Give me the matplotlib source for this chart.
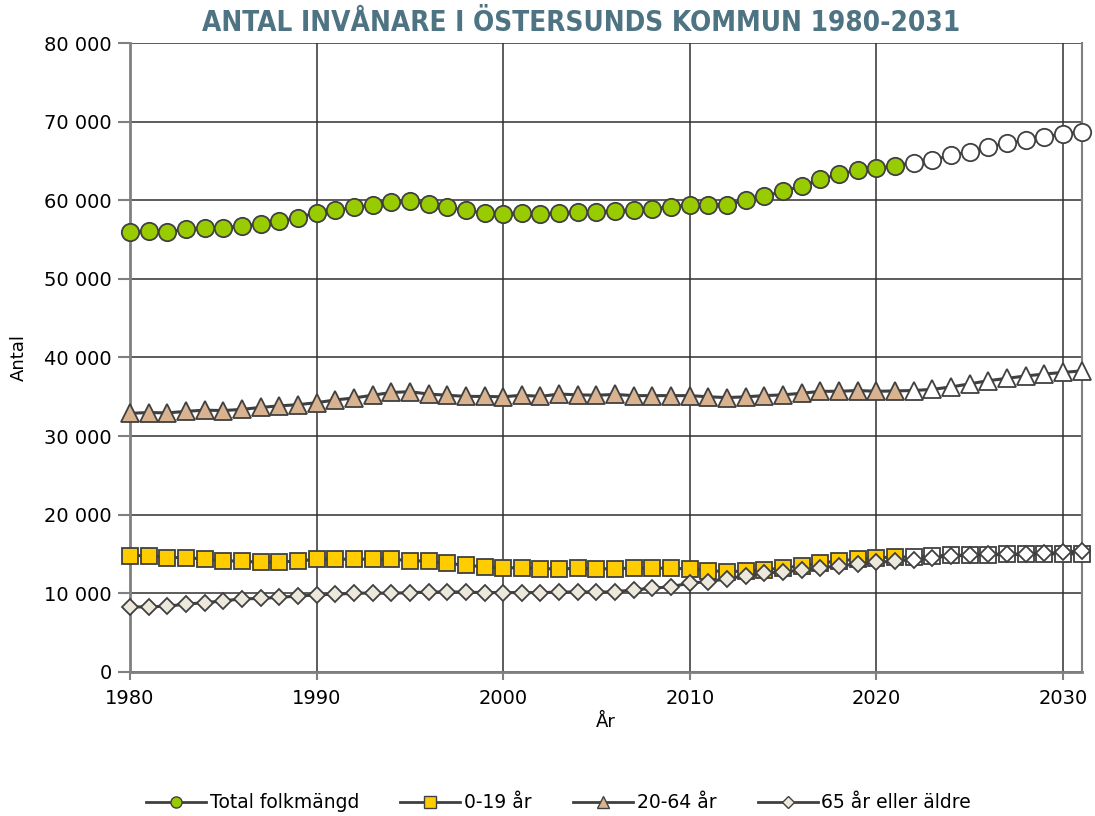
import matplotlib
matplotlib.use("Agg")
import matplotlib.pyplot as plt
from matplotlib.lines import Line2D
from matplotlib.ticker import FuncFormatter
import numpy as np

# År (1980-2021 utfall, 2022-2031 prognos)
years = list(range(1980, 2032))
forecast_start = 2022

total = [55900, 56100, 56000, 56300, 56450, 56500, 56750, 56950, 57350, 57800,
         58400, 58700, 59100, 59350, 59800, 59850, 59550, 59150, 58700, 58400,
         58300, 58400, 58200, 58400, 58500, 58450, 58650, 58750, 58950, 59150,
         59450, 59400, 59450, 60000, 60500, 61150, 61800, 62650, 63300, 63850,
         64050, 64400, 64800, 65100, 65700, 66200, 66800, 67250, 67600, 68050,
         68450, 68700]

age_0_19 = [14800, 14800, 14550, 14550, 14350, 14150, 14100, 13950, 14000, 14100,
            14350, 14350, 14350, 14350, 14350, 14150, 14100, 13800, 13600, 13350,
            13250, 13250, 13150, 13100, 13200, 13100, 13150, 13200, 13200, 13200,
            13100, 12900, 12750, 12850, 13000, 13250, 13500, 13850, 14150, 14350,
            14550, 14600, 14650, 14750, 14850, 14850, 14900, 14950, 14950, 15000,
            15030, 15000]

age_20_64 = [32900, 33000, 32950, 33150, 33300, 33250, 33400, 33650, 33850, 34000,
             34250, 34600, 34850, 35200, 35550, 35650, 35350, 35200, 35050, 35050,
             35000, 35200, 35050, 35350, 35250, 35200, 35300, 35150, 35150, 35150,
             35150, 35000, 34900, 35000, 35150, 35250, 35450, 35700, 35700, 35800,
             35700, 35750, 35800, 35950, 36250, 36650, 37050, 37350, 37650, 37900,
             38100, 38300]

age_65_plus = [8250, 8300, 8350, 8650, 8800, 9050, 9300, 9350, 9500, 9650,
               9800, 9900, 10000, 10050, 10000, 10100, 10150, 10200, 10150, 10100,
               10100, 10100, 10100, 10150, 10200, 10150, 10200, 10450, 10650, 10850,
               11300, 11500, 11850, 12250, 12550, 12750, 12950, 13250, 13500, 13750,
               13950, 14100, 14300, 14550, 14750, 14850, 15000, 15000, 15000, 15100,
               15200, 15450]

labels = ["Total folkmängd", "0-19 år", "20-64 år", "65 år eller äldre"]
colors = ["#99CC00", "#FFCC00", "#D9B390", "#ECE8DC"]
markers = ["o", "s", "^", "D"]
sizes = [12.5, 12, 12.5, 8.6]

line_col = "#404040"

plt.rcParams["font.family"] = ["DejaVu Sans"]

fig = plt.figure(figsize=(10.95, 8.16), dpi=100)
ax = fig.add_axes([0.1187, 0.1765, 0.9878 - 0.1187, 0.9473 - 0.1765])

yrs = np.array(years)
hist = yrs < forecast_start
fc = yrs >= forecast_start

series = [total, age_0_19, age_20_64, age_65_plus]
for vals, col, mk, ms in zip(series, colors, markers, sizes):
    v = np.array(vals)
    ax.plot(yrs, v, color=line_col, lw=2.2, zorder=3, clip_on=False)
    ax.plot(yrs[hist], v[hist], ls="none", marker=mk, ms=ms, mfc=col,
            mec=line_col, mew=1.3, zorder=4, clip_on=False)
    ax.plot(yrs[fc], v[fc], ls="none", marker=mk, ms=ms, mfc="white",
            mec=line_col, mew=1.3, zorder=4, clip_on=False)

ax.set_xlim(1980, 2031)
ax.set_ylim(0, 80000)
ax.set_xticks([1980, 1990, 2000, 2010, 2020, 2030])
ax.set_yticks(np.arange(0, 80001, 10000))
ax.yaxis.set_major_formatter(FuncFormatter(lambda v, p: f"{int(v):,}".replace(",", " ")))
ax.tick_params(axis="both", labelsize=14, colors="#808080", labelcolor="black", width=1.5)
ax.tick_params(axis="y", length=9, pad=4)
ax.tick_params(axis="x", length=6, pad=6)

ax.grid(True, color="#303030", lw=1.1, zorder=1)
ax.set_axisbelow(True)
ax.spines["top"].set_visible(False)
for s in ["left", "bottom", "right"]:
    ax.spines[s].set_color("#808080")
    ax.spines[s].set_linewidth(2)
ax.spines["right"].set_linewidth(1.5)

ax.set_ylabel("Antal", fontsize=13, labelpad=12)
ax.set_xlabel("År", fontsize=13, labelpad=4)

fig.text(0.531, 0.972, "ANTAL INVÅNARE I ÖSTERSUNDS KOMMUN 1980-2031",
         ha="center", va="center", fontsize=20, fontweight="bold",
         fontstretch="condensed", color="#4E7382", family=["DejaVu Sans"])

handles = [Line2D([0], [0], color=line_col, lw=2, marker=mk, ms=8 if mk != "D" else 6,
                  mfc=col, mec=line_col, mew=1)
           for col, mk in zip(colors, markers)]
fig.legend(handles, labels, loc="center", bbox_to_anchor=(0.51, 0.016), ncol=4,
           frameon=False, fontsize=13.5, handlelength=3.2, handletextpad=0.2,
           columnspacing=2.2)

fig.savefig("out.png", dpi=100)
